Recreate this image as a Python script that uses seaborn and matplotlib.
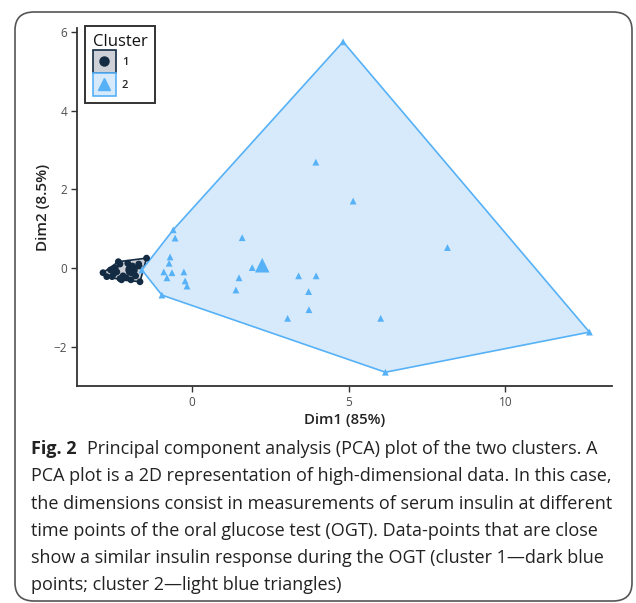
import numpy as np
import pandas as pd
import matplotlib
matplotlib.use("Agg")
import matplotlib.pyplot as plt
import seaborn as sns
from matplotlib.patches import FancyBboxPatch, Rectangle
from matplotlib.lines import Line2D

# cluster 1 (dark blue points)
c1_x = [-2.84, -2.35, -1.45, -1.66, -2.25, -2.72, -2.6, -2.5, -2.4, -2.3,
        -2.2, -2.1, -2.0, -1.9, -1.8, -1.7, -2.45, -2.05, -1.95, -2.55, -2.3, -1.69]
c1_y = [-0.12, 0.16, 0.25, -0.35, -0.3, -0.22, -0.05, -0.15, -0.1, 0.1,
        -0.2, -0.25, -0.1, 0.05, -0.2, 0.1, 0.0, 0.12, -0.3, -0.22, -0.27, 0.05]
# cluster 2 (light blue triangles)
c2_x = [-1.6, -0.6, 4.82, 12.68, 6.17, -0.96, -0.54, -0.7, -0.73, -0.9, -0.64,
        -0.8, -0.26, -0.22, -0.16, 1.6, 1.5, 1.4, 1.92, 3.95, 5.14, 8.15,
        3.40, 3.96, 3.72, 3.73, 3.05, 6.02]
c2_y = [-0.05, 0.97, 5.75, -1.63, -2.65, -0.69, 0.76, 0.28, 0.12, -0.1, -0.12,
        -0.25, -0.1, -0.33, -0.46, 0.77, -0.25, -0.56, 0.01, 2.69, 1.70, 0.52,
        -0.2, -0.2, -0.6, -1.06, -1.28, -1.28]
# cluster centres (larger markers)
centre_x = [-1.93, 2.24]
centre_y = [-0.05, 0.07]

colors = {"1": "#132B43", "2": "#56B1F7"}
fills = {"1": "#cdd1d7", "2": "#d6eafb"}
markers = {"1": "o", "2": "^"}
key_msize = {"1": 6.5, "2": 8}

df = pd.DataFrame({
    "Dim1": c1_x + c2_x,
    "Dim2": c1_y + c2_y,
    "Cluster": ["1"] * len(c1_x) + ["2"] * len(c2_x),
})


def convex_hull(pts):
    pts = sorted(set(pts))
    def cross(o, a, b):
        return (a[0] - o[0]) * (b[1] - o[1]) - (a[1] - o[1]) * (b[0] - o[0])
    lower, upper = [], []
    for p in pts:
        while len(lower) >= 2 and cross(lower[-2], lower[-1], p) <= 0:
            lower.pop()
        lower.append(p)
    for p in reversed(pts):
        while len(upper) >= 2 and cross(upper[-2], upper[-1], p) <= 0:
            upper.pop()
        upper.append(p)
    return np.array(lower[:-1] + upper[:-1])


# ggplot-like legend key: filled square with the marker centred in it
class Key:
    def __init__(self, cl):
        self.cl = cl


class KeyHandler:
    def legend_artist(self, legend, orig_handle, fontsize, handlebox):
        cl = orig_handle.cl
        x0, y0 = handlebox.xdescent, handlebox.ydescent
        w, h = handlebox.width, handlebox.height
        rect = Rectangle((-x0, -y0), w, h, facecolor=fills[cl], edgecolor=colors[cl],
                         linewidth=1.2, transform=handlebox.get_transform())
        mk = Line2D([w / 2 - x0], [h / 2 - y0], marker=markers[cl], color=colors[cl],
                    linestyle="none", markersize=key_msize[cl],
                    transform=handlebox.get_transform())
        handlebox.add_artist(rect)
        handlebox.add_artist(mk)
        return rect


sns.set_style("white")
plt.rcParams["font.family"] = ["Open Sans", "DejaVu Sans"]

W, H = 636, 603
fig = plt.figure(figsize=(W / 100, H / 100), dpi=100)
ax = fig.add_axes([77 / W, 1 - 386 / H, 535 / W, 358 / H])

for cl, g in df.groupby("Cluster"):
    hull = convex_hull(list(zip(g["Dim1"], g["Dim2"])))
    ax.fill(hull[:, 0], hull[:, 1], facecolor=fills[cl], edgecolor=colors[cl],
            linewidth=1.2, zorder=1)

sns.scatterplot(data=df, x="Dim1", y="Dim2", hue="Cluster", style="Cluster",
                palette=colors, markers=markers, s=24, edgecolor="none",
                legend=False, ax=ax, zorder=3)
for i, cl in enumerate(["1", "2"]):
    ax.scatter(centre_x[i], centre_y[i], s=80 if cl == "1" else 110,
               marker=markers[cl], color=colors[cl], edgecolor="none", zorder=4)

ax.set_xlim(-3.67, 13.4)
ax.set_ylim(-3.0, 6.1)
ax.set_xticks([0, 5, 10])
ax.set_yticks([-2, 0, 2, 4, 6])
ax.tick_params(axis="both", direction="out", length=4, width=1, color="#333333",
               labelsize=8.5, labelcolor="#4d4d4d", left=True, bottom=True, pad=3)
for side in ["top", "right"]:
    ax.spines[side].set_visible(False)
for side in ["left", "bottom"]:
    ax.spines[side].set_color("#333333")
    ax.spines[side].set_linewidth(1.3)
ax.set_xlabel("Dim1 (85%)", fontsize=10.8, fontweight="semibold", color="#222222", labelpad=3)
ax.set_ylabel("Dim2 (8.5%)", fontsize=11, fontweight="semibold", color="#222222", labelpad=3)

leg = ax.legend([Key("1"), Key("2")], ["1", "2"], title="Cluster", loc="upper left",
                bbox_to_anchor=(85 / W, 1 - 26 / H), bbox_transform=fig.transFigure,
                borderaxespad=0, handler_map={Key: KeyHandler()},
                handlelength=2.1, handleheight=2.8, handletextpad=0.5,
                labelspacing=0.0, borderpad=0.7, fontsize=8, title_fontsize=12,
                frameon=True, fancybox=False, edgecolor="black", alignment="left")
leg.get_frame().set_linewidth(1.4)
leg.get_title().set_color("#111111")
for t in leg.get_texts():
    t.set_fontweight("semibold")

# rounded frame round the figure and its caption
frame = FancyBboxPatch((15 / W, 2 / H), 617 / W, 589 / H,
                       boxstyle="round,pad=0,rounding_size=0.03",
                       transform=fig.transFigure, facecolor="none",
                       edgecolor="#555555", linewidth=1.2)
fig.patches.append(frame)

cap_size = 13.0
y0, step = 449, 27.3
bold = fig.text(31 / W, 1 - y0 / H, "Fig. 2", fontsize=cap_size, fontweight="bold",
                color="#222222", va="center")
fig.canvas.draw()
bb = bold.get_window_extent(renderer=fig.canvas.get_renderer())
fig.text((bb.x1 + 10) / W, 1 - y0 / H,
         "Principal component analysis (PCA) plot of the two clusters. A",
         fontsize=cap_size, color="#222222", va="center")
lines = [
    "PCA plot is a 2D representation of high-dimensional data. In this case,",
    "the dimensions consist in measurements of serum insulin at different",
    "time points of the oral glucose test (OGT). Data-points that are close",
    "show a similar insulin response during the OGT (cluster 1\u2014dark blue",
    "points; cluster 2\u2014light blue triangles)",
]
for i, t in enumerate(lines):
    fig.text(31 / W, 1 - (y0 + step * (i + 1)) / H, t, fontsize=cap_size,
             color="#222222", va="center")

fig.savefig("out.png", dpi=100)
